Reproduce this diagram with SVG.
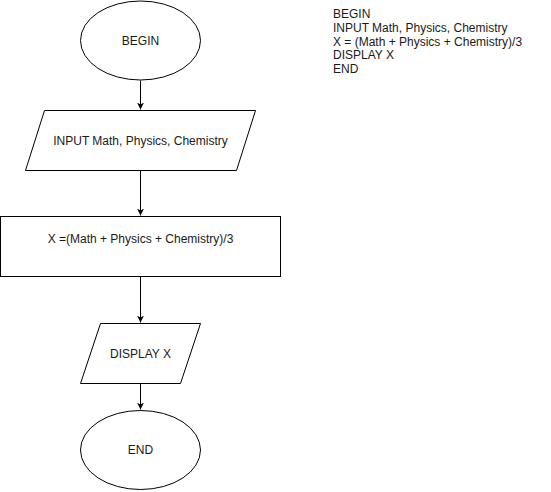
<svg xmlns="http://www.w3.org/2000/svg" width="551" height="492" viewBox="0 0 551 492">
<defs>
<style>
.s{fill:#fff;stroke:#000;stroke-width:1}
.t{font-family:"Liberation Sans",Arial,sans-serif;font-size:12px;fill:#1a1a1a}
.c{text-anchor:middle}
.e{stroke:#000;stroke-width:1;fill:none}
</style>
<marker id="ah" viewBox="0 0 10 10" refX="10" refY="5" markerWidth="7" markerHeight="7" markerUnits="userSpaceOnUse" orient="auto">
<path d="M0,0 L10,5 L0,10 L3,5 Z" fill="#000"/>
</marker>
</defs>
<rect width="551" height="492" fill="#fff"/>
<g id="connectors">
<path class="e" d="M140.5,80.5 V109.5" marker-end="url(#ah)"/>
<path class="e" d="M140.5,170.5 V215.5" marker-end="url(#ah)"/>
<path class="e" d="M140.5,276.5 V322.5" marker-end="url(#ah)"/>
<path class="e" d="M140.5,383.5 V409.5" marker-end="url(#ah)"/>
</g>
<g id="begin">
<ellipse class="s" cx="140.5" cy="40.5" rx="60" ry="39.5"/>
<text class="t c" x="140.5" y="44.5">BEGIN</text>
</g>
<g id="input">
<polygon class="s" points="44.5,110.5 255.5,110.5 236.5,170.5 25.5,170.5"/>
<text class="t c" x="140.5" y="144.5">INPUT Math, Physics, Chemistry</text>
</g>
<g id="process">
<rect class="s" x="0.5" y="216.5" width="280" height="60"/>
<text class="t c" x="140.5" y="242.5">X =(Math + Physics + Chemistry)/3</text>
</g>
<g id="display">
<polygon class="s" points="100.5,323.5 200.5,323.5 180.5,383.5 80.5,383.5"/>
<text class="t c" x="140.5" y="357.5">DISPLAY X</text>
</g>
<g id="end">
<ellipse class="s" cx="140.5" cy="450" rx="60" ry="39.5"/>
<text class="t c" x="140.5" y="454">END</text>
</g>
<g id="pseudocode">
<text class="t" x="333" y="18">BEGIN</text>
<text class="t" x="333" y="31.5">INPUT Math, Physics, Chemistry</text>
<text class="t" x="333" y="45.5">X = (Math + Physics + Chemistry)/3</text>
<text class="t" x="333" y="59">DISPLAY X</text>
<text class="t" x="333" y="72.5">END</text>
</g>
</svg>
